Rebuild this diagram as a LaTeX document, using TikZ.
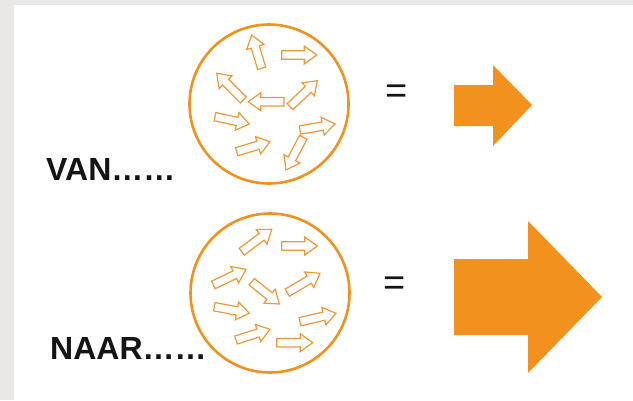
\documentclass[tikz,border=0pt]{standalone}
\usepackage{fontspec}
\setmainfont{Liberation Sans}
\definecolor{bggray}{RGB}{233,232,230}
\definecolor{orng}{RGB}{242,145,30}
\definecolor{orngline}{RGB}{240,152,55}
\tikzset{
  ring/.style={draw=orng, line width=2.6pt},
  sarr/.style={draw=orngline, line width=1.2pt, line join=miter},
  bigarr/.style={fill=orng, draw=none},
  lbl/.style={font=\fontsize{32}{32}\selectfont\bfseries, inner sep=0pt, text=black!92},
  eqs/.style={font=\fontsize{38}{38}\selectfont, inner sep=0pt, text=black!92}
}
\newcommand\sarrow[4]{%
  \pgfmathsetmacro\dx{(#3)-(#1)}\pgfmathsetmacro\dy{(#4)-(#2)}%
  \pgfmathsetmacro\L{sqrt((\dx)*(\dx)+(\dy)*(\dy))}%
  \pgfmathsetmacro\ux{(\dx)/(\L)}\pgfmathsetmacro\uy{(\dy)/(\L)}%
  \pgfmathsetmacro\nx{-(\uy)}\pgfmathsetmacro\ny{\ux}%
  \pgfmathsetmacro\bx{(#3)-12.5*(\ux)}\pgfmathsetmacro\by{(#4)-12.5*(\uy)}%
  \draw[sarr] ({(#1)+4.2*(\nx)},{(#2)+4.2*(\ny)}) -- ({(\bx)+4.2*(\nx)},{(\by)+4.2*(\ny)})
    -- ({(\bx)+9*(\nx)},{(\by)+9*(\ny)}) -- (#3,#4)
    -- ({(\bx)-9*(\nx)},{(\by)-9*(\ny)}) -- ({(\bx)-4.2*(\nx)},{(\by)-4.2*(\ny)})
    -- ({(#1)-4.2*(\nx)},{(#2)-4.2*(\ny)}) -- cycle;}
\begin{document}
\begin{tikzpicture}[x=1pt,y=-1pt]
\useasboundingbox (0,0) rectangle (633,400);
\fill[bggray] (0,0) rectangle (633,400);
\fill[white] (14,5) rectangle (633,400);

% circles
\draw[ring] (269,104) circle (79.5);
\draw[ring] (270,293) circle (79.5);

% small arrows, circle 1
\sarrow{261.7}{68.3}{251.7}{35}
\sarrow{281.7}{55}{316.7}{55}
\sarrow{243.3}{100}{216.7}{73.3}
\sarrow{284}{101.7}{248.3}{101.7}
\sarrow{290}{106.7}{317.3}{80.7}
\sarrow{215}{116.7}{249.3}{124}
\sarrow{300}{130}{335}{124}
\sarrow{236.7}{151.7}{270}{141.7}
\sarrow{303.3}{137.3}{286}{170}

% small arrows, circle 2
\sarrow{241.7}{251.7}{271.7}{229.3}
\sarrow{281.7}{246}{317.3}{246}
\sarrow{213.3}{285}{246}{269.3}
\sarrow{251.7}{281.7}{279.3}{304}
\sarrow{287.3}{292.7}{320}{273.3}
\sarrow{214.3}{306.7}{249.3}{313.3}
\sarrow{300}{321.7}{336}{313.3}
\sarrow{236}{340}{270}{329.3}
\sarrow{276.7}{342.7}{312.7}{342.7}

% big arrows
\fill[bigarr] (454,85) -- (493,85) -- (493,65) -- (532,105) -- (493,146) -- (493,126) -- (454,126) -- cycle;
\fill[bigarr] (454,259) -- (528,259) -- (528,221) -- (602,297) -- (528,373) -- (528,335) -- (454,335) -- cycle;

% equals
\node[eqs] (eq1) at (397,94.5) {=};
\node[eqs] (eq2) at (395,286) {=};

% labels
\node[lbl, anchor=base west] (van) at (46,180) {VAN……};
\node[lbl, anchor=base west] (naar) at (50,359) {NAAR……};
\end{tikzpicture}
\end{document}
